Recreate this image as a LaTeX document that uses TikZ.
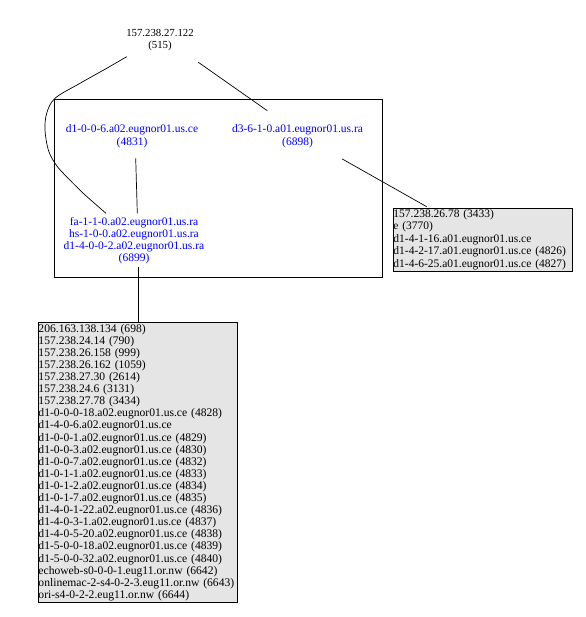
\documentclass[tikz,border=0pt]{standalone}
\usepackage{fontspec}
\setmainfont{Liberation Serif}
\definecolor{grayninety}{RGB}{229,229,229}
\begin{document}
\begin{tikzpicture}[x=1pt,y=-1pt,
  lbl/.style={inner sep=0pt, align=center},
  bluelbl/.style={lbl, text=blue},
  graybox/.style={draw, fill=grayninety, line width=0.9pt, inner xsep=0pt, inner ysep=0pt, align=left, anchor=north west},
  edge/.style={line width=0.7pt}]
\useasboundingbox (0,0) rectangle (585,617);

% cluster
\node[draw, line width=0.9pt, minimum width=328.3pt, minimum height=178pt, inner sep=0pt, anchor=north west] (cluster) at (54,99.3) {};

% labels
\node[lbl, font=\fontsize{10.8}{12}\selectfont] (top) at (160,40) {157.238.27.122\\(515)};
\node[bluelbl, font=\fontsize{11.5}{13}\selectfont] (n4831) at (132,135.8) {d1-0-0-6.a02.eugnor01.us.ce\\(4831)};
\node[bluelbl, font=\fontsize{11.5}{13}\selectfont] (n6898) at (297.5,135.8) {d3-6-1-0.a01.eugnor01.us.ra\\(6898)};
\node[bluelbl, font=\fontsize{11.5}{12.3}\selectfont] (n6899) at (134,240.7) {fa-1-1-0.a02.eugnor01.us.ra\\hs-1-0-0.a02.eugnor01.us.ra\\d1-4-0-0-2.a02.eugnor01.us.ra\\(6899)};

% gray boxes
\node[graybox, text width=178.7pt, minimum height=63pt, font=\fontsize{11.5}{12.6}\selectfont] (rbox) at (393,207.7) {\mbox{157.238.26.78 (3433)}\\\mbox{e (3770)}\\\mbox{d1-4-1-16.a01.eugnor01.us.ce}\\\mbox{d1-4-2-17.a01.eugnor01.us.ce (4826)}\\\mbox{d1-4-6-25.a01.eugnor01.us.ce (4827)}};

\node[graybox, text width=199pt, minimum height=280pt, font=\fontsize{11.6}{12.1}\selectfont] (bbox) at (38,322) {\mbox{206.163.138.134 (698)}\\\mbox{157.238.24.14 (790)}\\\mbox{157.238.26.158 (999)}\\\mbox{157.238.26.162 (1059)}\\\mbox{157.238.27.30 (2614)}\\\mbox{157.238.24.6 (3131)}\\\mbox{157.238.27.78 (3434)}\\\mbox{d1-0-0-0-18.a02.eugnor01.us.ce (4828)}\\\mbox{d1-4-0-6.a02.eugnor01.us.ce}\\\mbox{d1-0-0-1.a02.eugnor01.us.ce (4829)}\\\mbox{d1-0-0-3.a02.eugnor01.us.ce (4830)}\\\mbox{d1-0-0-7.a02.eugnor01.us.ce (4832)}\\\mbox{d1-0-1-1.a02.eugnor01.us.ce (4833)}\\\mbox{d1-0-1-2.a02.eugnor01.us.ce (4834)}\\\mbox{d1-0-1-7.a02.eugnor01.us.ce (4835)}\\\mbox{d1-4-0-1-22.a02.eugnor01.us.ce (4836)}\\\mbox{d1-4-0-3-1.a02.eugnor01.us.ce (4837)}\\\mbox{d1-4-0-5-20.a02.eugnor01.us.ce (4838)}\\\mbox{d1-5-0-0-18.a02.eugnor01.us.ce (4839)}\\\mbox{d1-5-0-0-32.a02.eugnor01.us.ce (4840)}\\\mbox{echoweb-s0-0-0-1.eug11.or.nw (6642)}\\\mbox{onlinemac-2-s4-0-2-3.eug11.or.nw (6643)}\\\mbox{ori-s4-0-2-2.eug11.or.nw (6644)}};

% connector end points
\coordinate (topA) at (126.7,56.7);
\coordinate (topB) at (198.3,62.3);
\coordinate (in6899a) at (106,213.3);
\coordinate (in6898) at (267.3,110.7);
\coordinate (out4831) at (135.7,158.3);
\coordinate (in6899b) at (137.3,213.3);
\coordinate (out6898) at (342.3,159);
\coordinate (inr) at (426.7,206.7);
\coordinate (out6899) at (138.7,266.7);
\coordinate (inb) at (138.7,322);

% connectors
\draw[edge] plot[smooth, tension=0.55] coordinates {(topA) (106.7,68.3) (80,83.3) (55,98.3) (46.7,113.3) (45,130) (48.3,150) (55,163.3) (63.3,173.3) (83.3,193.3) (in6899a)};
\draw[edge] (topB) -- (in6898);
\draw[edge] (out4831) -- (in6899b);
\draw[edge] (out6898) -- (inr);
\draw[edge] (out6899) -- (inb);
\end{tikzpicture}
\end{document}
